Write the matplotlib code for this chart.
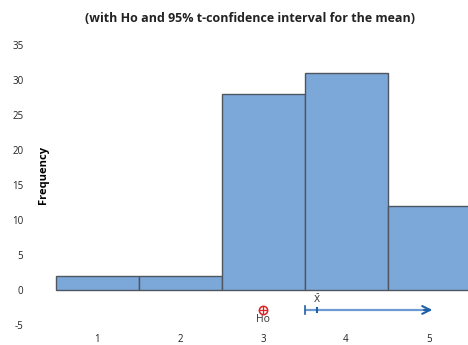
import matplotlib
matplotlib.use("Agg")
import matplotlib.pyplot as plt

# Histogram data
bin_centers = [1, 2, 3, 4, 5]
frequencies = [2, 2, 28, 31, 12]
x_tick_labels = ["1", "2", "3", "4", "5"]
y_ticks = [-5, 0, 5, 10, 15, 20, 25, 30, 35]

# Hypothesis test summary
h0_value = 3.0
sample_mean = 3.653
ci_lower = 3.506
ci_arrow_end = 5.04

W, H = 468, 345
plt.rcParams["font.family"] = ["Open Sans", "DejaVu Sans"]
plt.rcParams["axes.unicode_minus"] = False
fig = plt.figure(figsize=(W / 100, H / 100), dpi=100)

# axes placed in pixel coordinates
left_px, right_px, top_px, bottom_px = 40, 468, 40, 330
ax = fig.add_axes([left_px / W, 1 - bottom_px / H,
                   (right_px - left_px) / W, (bottom_px - top_px) / H])

ax.bar(bin_centers, frequencies, width=1.0, color="#7BA7D9",
       edgecolor="#4F5660", linewidth=1.0, zorder=2)

ax.set_xlim((left_px - 14) / 83, (right_px - 14) / 83)
ax.set_ylim((290 - bottom_px) / 7, (290 - top_px) / 7)

ax.set_xticks(bin_centers)
ax.set_xticklabels(x_tick_labels)
ax.set_yticks(y_ticks)
ax.tick_params(axis="both", length=0, labelsize=7, colors="#222222")
ax.tick_params(axis="y", pad=12)
ax.tick_params(axis="x", pad=3)
for s in ax.spines.values():
    s.set_visible(False)

ax.set_ylabel("Frequency", fontsize=8, fontweight="bold")
ax.yaxis.set_label_coords((49 - left_px) / (right_px - left_px),
                          (bottom_px - 175) / (bottom_px - top_px))

# Ho marker
y_ci = -2.85
ax.plot([h0_value], [y_ci], marker="o", markersize=6, markerfacecolor="none",
        markeredgecolor="#E02020", markeredgewidth=1.1, clip_on=False, zorder=5)
ax.plot([h0_value], [y_ci], marker="+", markersize=5.5, color="#E02020",
        markeredgewidth=0.9, clip_on=False, zorder=5)
ax.text(h0_value, y_ci - 0.6, "Ho", ha="center", va="top", fontsize=7.5,
        color="#333333")

# one-sided confidence interval for the mean
ax.plot([ci_lower, ci_arrow_end - 0.02], [y_ci, y_ci], color="#6C9BD2",
        lw=1.6, clip_on=False, zorder=4, solid_capstyle="butt")
ax.annotate("", xy=(ci_arrow_end, y_ci), xytext=(ci_arrow_end - 0.1, y_ci),
            arrowprops=dict(arrowstyle="->", color="#1F5FA8", lw=1.5,
                            mutation_scale=14, shrinkA=0, shrinkB=0),
            annotation_clip=False, zorder=5)
ax.plot([ci_lower, ci_lower], [y_ci - 0.55, y_ci + 0.55], color="#1F5FA8",
        lw=1.2, clip_on=False, zorder=5)
ax.plot([sample_mean, sample_mean], [y_ci - 0.35, y_ci + 0.35], color="#1F5FA8",
        lw=1.5, clip_on=False, zorder=5)
ax.text(sample_mean, y_ci + 0.75, r"$\bar{\mathrm{X}}$", ha="center", va="bottom",
        fontsize=6.5, color="#333333")

fig.text(250 / W, 1 - 18 / H,
         "(with Ho and 95% t-confidence interval for the mean)",
         ha="center", va="center", fontsize=9, fontweight="bold", color="#222222")

fig.savefig("out.png", dpi=100)
